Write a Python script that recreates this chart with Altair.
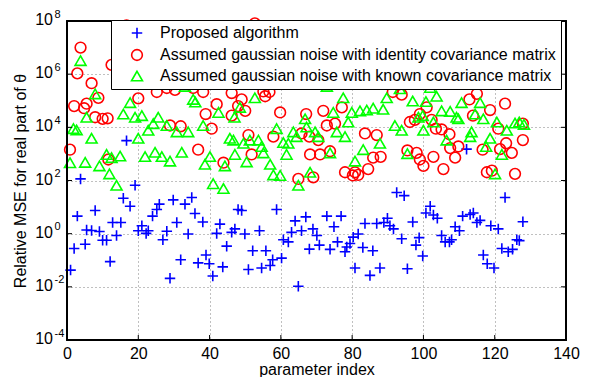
import altair as alt
import pandas as pd

S1 = "Proposed algorithm"
S2 = "Assumed gaussian noise with identity covariance matrix"
S3 = "Assumed gaussian noise with known covariance matrix"

# parameter index and log10(relative MSE)
blue_x = [1.0, 2.0, 2.9, 3.8, 5.1, 5.5, 6.9, 7.9, 9.1, 10.0, 11.1, 12.1, 12.8, 13.9, 15.1, 15.8,
          16.7, 17.7, 19.1, 20.0, 21.0, 22.2, 22.8, 24.0, 25.2, 25.9, 26.9, 28.0, 28.9, 29.8,
          30.8, 31.9, 33.1, 34.0, 35.0, 35.9, 36.8, 38.1, 39.0, 39.9, 40.9, 42.0, 42.9, 43.7,
          44.8, 46.2, 47.1, 48.0, 49.0, 49.9, 50.9, 52.1, 54.0, 54.6, 55.8, 57.0, 57.7, 58.8,
          60.2, 60.7, 62.1, 63.0, 64.0, 64.9, 65.8, 67.0, 68.0, 69.0, 70.1, 70.8, 72.9, 73.8,
          74.9, 75.9, 76.9, 78.0, 78.5, 79.4, 80.3, 80.8, 81.7, 83.0, 83.6, 85.0, 85.8, 86.9,
          87.8, 88.9, 89.9, 90.6, 91.6, 92.5, 93.9, 94.6, 95.5, 97.0, 97.9, 98.8, 99.8, 100.7,
          101.9, 102.8, 103.9, 105.1, 106.1, 107.3, 107.9, 108.9, 110.1, 111.0, 112.1, 113.1,
          114.0, 115.0, 115.9, 116.8, 117.9, 118.9, 119.8, 121.0, 122.0, 122.9, 123.8, 125.0,
          126.2, 126.9, 127.9]
blue_log = [-1.37, -0.56, 0.66, 2.06, -0.40, 0.14, 0.12, 0.87, 0.08, -0.25, -0.25, -1.05, 0.42, -0.07,
            0.42, 1.33, 3.50, 1.03, 1.82, 0.11, 0.30, 0.01, 0.11, 0.66, 0.91, 1.11, -0.23, 0.09,
            -1.68, 1.27, 0.42, -0.98, 1.11, -0.01, 1.36, 0.76, -1.10, 0.44, -0.80, -1.13, -1.59,
            0.01, 0.36, -1.25, -0.47, 0.05, 0.18, 0.91, 0.87, -0.01, -1.35, -0.64, 0.11, -1.29,
            -0.64, -1.20, -0.98, 0.91, -0.92, -0.23, -0.31, 0.05, 0.48, -1.98, 0.11, 0.63, -0.58,
            0.18, -0.07, -0.43, 0.66, -0.59, 0.26, -0.31, 0.66, -0.68, -0.50, -0.37, -0.13, -1.29,
            -0.01, -0.52, 0.38, -1.57, -0.64, 0.38, -1.29, 0.42, 0.58, 0.30, 0.18, 1.55, -0.19,
            1.43, -1.32, 0.44, -0.43, -0.15, -0.84, 0.78, 1.03, 0.70, 0.58, -0.07, -0.31, -0.31,
            -0.23, 0.26, 0.11, 0.66, 3.18, 0.72, 0.78, 0.42, 0.50, -0.80, -1.13, 0.30, -1.29, 0.18,
            -0.56, 1.36, -0.68, -0.59, -0.23, -0.26, 0.45]

red_x = [0.84, 2.0, 2.9, 3.8, 4.8, 5.5, 6.9, 7.9, 8.8, 10.0, 11.4, 11.6, 12.5, 16.7, 20.0, 25.2,
         28.0, 28.9, 30.3, 31.9, 35.0, 35.4, 36.8, 38.2, 38.9, 40.6, 42.0, 43.9, 46.2, 46.2, 48.0,
         49.0, 50.0, 50.9, 51.8, 52.7, 55.1, 55.6, 56.8, 57.9, 59.8, 64.9, 65.8, 67.1, 68.0, 68.2,
         69.1, 70.5, 71.0, 71.9, 72.9, 73.8, 75.2, 77.1, 78.0, 80.2, 80.8, 81.7, 83.6, 84.5, 85.9,
         86.9, 88.0, 91.4, 93.9, 95.5, 96.2, 97.6, 98.1, 99.0, 99.0, 100.0, 100.9, 102.3, 102.8,
         103.5, 105.1, 105.6, 107.3, 107.5, 108.9, 109.8, 112.9, 113.9, 115.0, 116.6, 117.8,
         118.7, 119.2, 121.0, 121.5, 122.9, 123.2, 124.8, 125.7, 127.9, 127.9]
red_log = [3.16, 4.80, 6.03, 7.00, 4.72, 4.89, 5.66, 4.38, 5.11, 4.32, 4.34, 2.79, 6.35, 7.83, 5.09,
           5.33, 5.48, 4.07, 5.41, 4.04, 7.67, 5.48, 3.16, 5.33, 4.50, 3.95, 4.87, 2.67, 5.29, 4.44,
           4.80, 5.05, 4.62, 3.71, 2.98, 7.91, 5.35, 5.17, 5.33, 3.65, 4.56, 2.06, 3.77, 4.50, 3.65,
           2.98, 2.12, 3.52, 2.98, 4.62, 4.07, 3.10, 4.14, 4.75, 2.31, 2.19, 2.31, 2.21, 3.77, 2.43,
           2.86, 3.71, 2.89, 5.33, 5.23, 3.13, 4.20, 4.28, 3.04, 4.50, 2.79, 2.55, 4.75, 4.28, 2.89,
           3.95, 3.92, 2.43, 3.74, 3.22, 2.86, 3.28, 5.05, 4.44, 5.26, 3.16, 2.31, 4.65, 2.37, 3.95,
           3.18, 4.89, 3.40, 3.04, 2.25, 3.52, 4.14]

green_x = [0.84, 1.8, 2.7, 3.8, 5.1, 5.5, 6.9, 7.9, 9.1, 11.1, 11.9, 12.5, 13.9, 14.9, 15.8, 17.7,
           19.1, 20.0, 21.0, 21.9, 22.8, 24.2, 24.7, 25.6, 26.6, 28.0, 28.9, 30.8, 32.2, 33.1, 34.0,
           35.4, 36.0, 38.2, 38.7, 40.1, 41.0, 42.5, 43.9, 44.3, 45.7, 47.0, 46.7, 47.1, 48.5, 49.5,
           50.4, 51.3, 52.7, 53.7, 54.6, 55.1, 57.0, 57.9, 58.8, 59.8, 60.7, 61.6, 62.1, 63.5, 64.4,
           64.9, 66.8, 67.2, 68.2, 69.6, 70.5, 72.9, 73.8, 74.7, 75.7, 77.5, 78.0, 78.9, 79.9, 80.8,
           82.2, 83.1, 84.1, 85.9, 87.8, 88.7, 89.7, 92.0, 93.4, 93.9, 95.5, 97.0, 98.6, 99.8, 100.0,
           100.7, 101.9, 102.8, 103.7, 105.1, 106.5, 107.5, 109.3, 109.8, 110.7, 113.1, 113.5,
           114.5, 115.9, 116.8, 117.6, 118.7, 120.1, 120.6, 122.0, 123.4, 125.7, 126.9, 128.2]
green_log = [2.67, 3.95, 3.90, 6.51, 2.68, 4.38, 3.59, 5.26, 2.55, 2.98, 2.25, 2.86, 1.82, 2.92, 4.50,
             4.93, 4.38, 3.59, 4.44, 2.90, 3.89, 4.14, 3.06, 4.38, 2.90, 4.07, 2.73, 3.83, 3.06, 5.54,
             3.83, 5.05, 4.95, 4.07, 2.61, 2.90, 1.88, 4.56, 1.70, 2.55, 3.59, 4.38, 3.52, 2.98, 4.75,
             3.40, 2.70, 3.52, 5.11, 3.52, 3.28, 3.04, 2.61, 2.21, 3.95, 2.19, 3.43, 2.98, 3.40, 3.83,
             3.65, 1.82, 4.32, 4.01, 2.31, 3.83, 3.65, 5.54, 3.04, 4.56, 3.83, 5.11, 3.65, 4.20, 4.56,
             2.73, 4.62, 3.16, 4.65, 4.72, 3.40, 4.68, 5.11, 4.07, 5.45, 3.89, 3.01, 4.99, 4.38, 4.44,
             3.89, 4.97, 5.50, 4.20, 5.17, 4.62, 3.52, 4.60, 4.38, 4.32, 4.93, 3.65, 3.83, 4.50, 4.93,
             4.32, 3.28, 3.59, 2.25, 4.20, 2.98, 3.89, 4.16, 4.20, 4.11]

x_ticks = [0, 20, 40, 60, 80, 100, 120, 140]
y_exps = [-4, -2, 0, 2, 4, 6, 8]
y_exp_labels = ["-4", "-2", "0", "2", "4", "6", "8"]

FONT = "Liberation Sans"
W, H = 499, 319

rows = []
for name, xs_, ls_ in [(S1, blue_x, blue_log), (S2, red_x, red_log), (S3, green_x, green_log)]:
    for xv, lv in zip(xs_, ls_):
        rows.append({"idx": xv, "mse": 10 ** lv, "series": name})
df = pd.DataFrame(rows)

y_tick_vals = [10.0 ** e for e in y_exps]
ticks_y = pd.DataFrame({"v": y_tick_vals, "lab": y_exp_labels})
ticks_x = pd.DataFrame({"v": x_ticks})

xs = alt.Scale(domain=[0, 140], nice=False, zero=False)
ys = alt.Scale(type="log", domain=[1e-4, 1e8], nice=False)

x_axis = alt.Axis(values=x_ticks, ticks=False, domain=False, grid=True,
                  labelFontSize=16, labelFont=FONT, labelColor="black", labelPadding=5,
                  labelFlush=False, title="parameter index", titleFontSize=16,
                  titleFont=FONT, titleFontWeight="normal", titleColor="black",
                  titlePadding=0)
y_axis = alt.Axis(values=y_tick_vals, labels=False, ticks=False,
                  domain=False, grid=True, title="Relative MSE for real part of θ",
                  titleFontSize=16, titleFont=FONT, titleFontWeight="normal",
                  titleColor="black", titlePadding=39)

plus = "M-1,0L1,0M0,-1L0,1"
names = [S1, S2, S3]

leg = alt.Legend(title=None, orient="none", legendX=44, legendY=-1, labelFontSize=16,
                 labelFont=FONT, labelColor="black", labelLimit=700, symbolSize=130,
                 symbolStrokeWidth=1.6, padding=5, symbolOffset=13, labelOffset=15,
                 rowPadding=4, strokeColor="black", fillColor="white", cornerRadius=0)

points = alt.Chart(df).mark_point(filled=False, strokeWidth=1.6, opacity=1).encode(
    x=alt.X("idx:Q", scale=xs, axis=x_axis),
    y=alt.Y("mse:Q", scale=ys, axis=y_axis),
    color=alt.Color("series:N", scale=alt.Scale(domain=names, range=["#0000ff", "#ff0000", "#00ff00"]), legend=leg),
    shape=alt.Shape("series:N", scale=alt.Scale(domain=names, range=[plus, "circle", "triangle-up"]), legend=leg),
    size=alt.Size("series:N", scale=alt.Scale(domain=names, range=[110, 120, 180]), legend=None),
)

ten = alt.Chart(ticks_y).mark_text(align="right", baseline="middle", fontSize=16, font=FONT,
                                   color="black", dy=-1).encode(
    y=alt.Y("v:Q", scale=ys, axis=y_axis), x=alt.value(-14), text=alt.value("10"))
expo = alt.Chart(ticks_y).mark_text(align="left", baseline="middle", fontSize=11, font=FONT,
                                    color="black", dy=-6.5).encode(
    y=alt.Y("v:Q", scale=ys, axis=y_axis), x=alt.value(-12.5), text="lab:N")

tb = alt.Chart(ticks_x).mark_rule(color="black", strokeWidth=1).encode(
    x=alt.X("v:Q", scale=xs, axis=x_axis), y=alt.value(H - 5), y2=alt.value(H))
tt = alt.Chart(ticks_x).mark_rule(color="black", strokeWidth=1).encode(
    x=alt.X("v:Q", scale=xs, axis=x_axis), y=alt.value(0), y2=alt.value(5))
tl = alt.Chart(ticks_y).mark_rule(color="black", strokeWidth=1).encode(
    y=alt.Y("v:Q", scale=ys, axis=y_axis), x=alt.value(0), x2=alt.value(5))
tr = alt.Chart(ticks_y).mark_rule(color="black", strokeWidth=1).encode(
    y=alt.Y("v:Q", scale=ys, axis=y_axis), x=alt.value(W - 5), x2=alt.value(W))

frame = alt.Chart(ticks_x).mark_rect(filled=False, stroke="black", strokeWidth=1.2).encode(
    x=alt.value(0), x2=alt.value(W), y=alt.value(0), y2=alt.value(H))

chart = alt.layer(points, tb, tt, tl, tr, frame, ten, expo).properties(
    width=W, height=H,
    autosize=alt.AutoSizeParams(type="none"),
    padding={"left": 59, "top": 13, "right": 18, "bottom": 37},
).configure_view(stroke="black", strokeWidth=1).configure_axis(
    gridColor="#808080", gridDash=[1, 3], gridWidth=1, gridOpacity=1
)

chart.save("out.html", embed_options={"renderer": "svg", "actions": False})
